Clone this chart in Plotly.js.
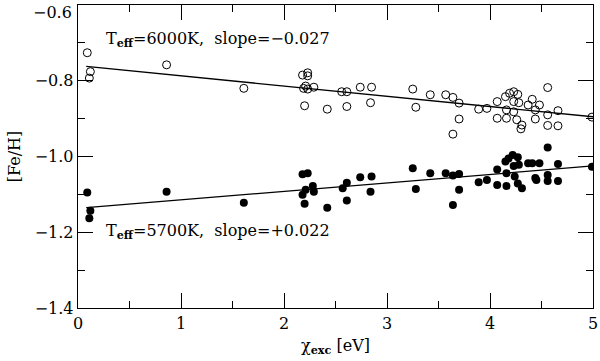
<!DOCTYPE html>
<html>
<head>
<meta charset="utf-8">
<script src="https://cdn.plot.ly/plotly-3.0.1.min.js"></script>
<style>
  html, body { margin: 0; padding: 0; background: #fff; }
  #chart { width: 600px; height: 361px; }
</style>
</head>
<body>
<div id="chart"></div>
<script>
// Fe I lines, [Fe/H] vs excitation potential, two Teff assumptions
const chiOpen = [0.09, 0.12, 0.11, 0.86, 1.61, 2.18, 2.23, 2.23, 2.19, 2.23, 2.21, 2.29, 2.20,
    2.42, 2.56, 2.61, 2.61, 2.74, 2.85, 2.84, 3.25, 3.28, 3.42, 3.57, 3.64, 3.70, 3.70, 3.64,
    3.89, 3.97, 4.07, 4.07, 4.16, 4.15, 4.16, 4.19, 4.23, 4.27, 4.23, 4.28, 4.23, 4.26, 4.31,
    4.30, 4.37, 4.41, 4.44, 4.44, 4.48, 4.56, 4.56, 4.56, 4.66, 4.66, 4.99];
const feOpen = [-0.726, -0.776, -0.793, -0.758, -0.820, -0.785, -0.779, -0.787, -0.820, -0.822,
    -0.814, -0.817, -0.866, -0.875, -0.829, -0.829, -0.868, -0.817, -0.817, -0.858, -0.822,
    -0.870, -0.837, -0.837, -0.844, -0.859, -0.901, -0.941, -0.875, -0.873, -0.855, -0.899,
    -0.899, -0.842, -0.877, -0.833, -0.829, -0.836, -0.855, -0.858, -0.882, -0.903, -0.917,
    -0.927, -0.864, -0.849, -0.877, -0.901, -0.864, -0.818, -0.890, -0.918, -0.879, -0.919,
    -0.896];

const chiFilled = [0.09, 0.12, 0.11, 0.86, 1.61, 2.18, 2.23, 2.21, 2.28, 2.29, 2.18, 2.20,
    2.42, 2.57, 2.61, 2.61, 2.74, 2.85, 2.84, 3.25, 3.28, 3.42, 3.57, 3.64, 3.70, 3.70, 3.64,
    3.89, 3.97, 4.07, 4.07, 4.16, 4.15, 4.16, 4.18, 4.22, 4.27, 4.23, 4.28, 4.24, 4.27, 4.31,
    4.37, 4.41, 4.44, 4.45, 4.48, 4.56, 4.56, 4.56, 4.66, 4.66, 4.99];
const feFilled = [-1.095, -1.143, -1.163, -1.093, -1.122, -1.047, -1.044, -1.088, -1.078,
    -1.093, -1.101, -1.125, -1.135, -1.084, -1.069, -1.116, -1.055, -1.053, -1.093, -1.031,
    -1.086, -1.044, -1.044, -1.050, -1.046, -1.088, -1.128, -1.068, -1.062, -1.034, -1.075,
    -1.078, -1.013, -1.044, -1.005, -0.996, -1.002, -1.025, -1.022, -1.053, -1.071, -1.084,
    -1.018, -1.018, -1.057, -1.062, -1.018, -0.976, -1.049, -1.065, -1.020, -1.065, -1.027];

// linear fits
const fitX = [0.08, 5.0];
const fit6000 = [-0.762, -0.895];
const fit5700 = [-1.135, -1.025];

// y tick labels; the top one sits at the frame edge, drawn as an annotation below
const yTickVals = [-1.4, -1.2, -1.0, -0.8];
const yTickText = ['−1.4', '−1.2', '−1.0', '−0.8'];
const yTopLabel = '−0.6';

const labelFont = { family: 'DejaVu Serif', size: 16, color: '#000' };

const traces = [
    {
        x: chiOpen, y: feOpen, type: 'scatter', mode: 'markers',
        marker: { symbol: 'circle-open', size: 8, color: '#000', line: { width: 1, color: '#000' } },
        hoverinfo: 'skip'
    },
    {
        x: chiFilled, y: feFilled, type: 'scatter', mode: 'markers',
        marker: { symbol: 'circle', size: 8, color: '#000' },
        hoverinfo: 'skip'
    },
    {
        x: fitX, y: fit6000, type: 'scatter', mode: 'lines',
        line: { color: '#000', width: 1.3 }, hoverinfo: 'skip'
    },
    {
        x: fitX, y: fit5700, type: 'scatter', mode: 'lines',
        line: { color: '#000', width: 1.3 }, hoverinfo: 'skip'
    }
];

const layout = {
    width: 600,
    height: 361,
    showlegend: false,
    paper_bgcolor: '#fff',
    plot_bgcolor: '#fff',
    margin: { l: 78, r: 7, t: 5, b: 53 },
    font: { family: 'DejaVu Serif', size: 15, color: '#000' },
    xaxis: {
        range: [0, 5],
        tickvals: [0, 1, 2, 3, 4, 5],
        ticks: 'inside', ticklen: 15, tickwidth: 1, tickcolor: '#000',
        minor: { dtick: 0.5, ticks: 'inside', ticklen: 7, tickcolor: '#000', showgrid: false },
        showline: true, linecolor: '#000', linewidth: 1.3, mirror: 'ticks',
        showgrid: false, zeroline: false,
        ticklabeloverflow: 'allow',
        tickfont: { family: 'DejaVu Serif', size: 16 },
        title: { text: 'χ<sub><b>exc</b></sub> [eV]', font: { family: 'DejaVu Serif', size: 16 }, standoff: 8 }
    },
    yaxis: {
        range: [-1.4, -0.6],
        tickvals: yTickVals,
        ticktext: yTickText,
        ticks: 'inside', ticklen: 15, tickwidth: 1, tickcolor: '#000',
        minor: { dtick: 0.1, ticks: 'inside', ticklen: 7, tickcolor: '#000', showgrid: false },
        showline: true, linecolor: '#000', linewidth: 1.3, mirror: 'ticks',
        showgrid: false, zeroline: false,
        ticklabeloverflow: 'allow',
        tickfont: { family: 'DejaVu Serif', size: 16 },
        title: { text: '[Fe/H]', font: { family: 'DejaVu Serif', size: 16 }, standoff: 10 }
    },
    annotations: [
        {
            x: 0.25, y: -0.692, xref: 'x', yref: 'y', xanchor: 'left', yanchor: 'middle',
            text: 'T<sub><b>eff</b></sub>=6000K,  slope=−0.027', showarrow: false, font: labelFont
        },
        {
            x: 0.25, y: -1.199, xref: 'x', yref: 'y', xanchor: 'left', yanchor: 'middle',
            text: 'T<sub><b>eff</b></sub>=5700K,  slope=+0.022', showarrow: false, font: labelFont
        },
        {
            x: 0, y: 1, xref: 'paper', yref: 'paper', xanchor: 'right', yanchor: 'top',
            xshift: -4, yshift: 4, text: yTopLabel, showarrow: false,
            font: { family: 'DejaVu Serif', size: 16, color: '#000' }
        }
    ]
};

Plotly.newPlot('chart', traces, layout, { staticPlot: true, displayModeBar: false });
</script>
</body>
</html>
